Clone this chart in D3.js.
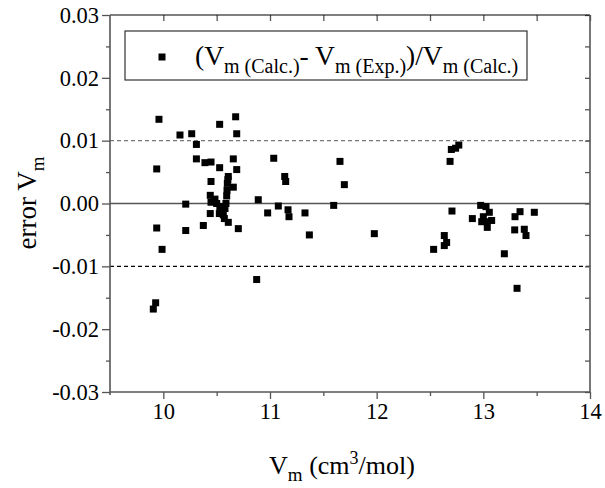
<!DOCTYPE html>
<html>
<head>
<meta charset="utf-8">
<script src="https://cdn.jsdelivr.net/npm/d3@7"></script>
<style>
  body { margin: 0; background: #fff; }
  svg { display: block; font-family: "Liberation Serif", "Times New Roman", serif; }
</style>
</head>
<body>
<svg id="chart" width="605" height="488"></svg>
<script>
// molar volume (cm3/mol) of each sample
var vmValues = [
  9.959, 10.156, 10.266, 10.31, 10.31, 9.938, 10.21, 9.938, 10.21, 9.988, 9.928, 9.906,
  10.678, 10.528, 10.688, 10.39, 10.447, 10.656, 10.528, 10.688, 10.609, 10.605, 10.447,
  10.6, 10.656, 10.597, 10.44, 10.594, 10.484, 10.447, 10.5, 10.587, 10.53, 10.578,
  10.547, 10.44, 10.525, 10.562, 10.572, 10.609, 10.375, 10.703,
  10.89, 10.978, 11.078, 11.035, 11.138, 11.147, 11.169, 11.178, 11.328, 11.369,
  11.597, 11.656, 11.697, 11.978, 10.875,
  12.70, 12.74, 12.77, 12.688, 12.706, 12.634, 12.656, 12.634, 12.534, 12.975, 13.025,
  13.056, 12.897, 13.0, 12.985, 13.031, 13.078, 13.037, 13.344, 13.478, 13.297, 13.294,
  13.384, 13.4, 13.197, 13.316
];
// relative error (Vm calc - Vm exp) / Vm calc
var errorValues = [
  0.0134, 0.0109, 0.0111, 0.0094, 0.0071, 0.0055, -0.0001, -0.0039, -0.0043, -0.0073, -0.0158, -0.0168,
  0.0138, 0.0126, 0.0111, 0.0065, 0.0066, 0.0071, 0.0057, 0.0054, 0.0043, 0.0038, 0.0035,
  0.0032, 0.0026, 0.0021, 0.0013, 0.0012, 0.0007, 0.0002, 0.0000, 0.0000, -0.0005, -0.0008,
  -0.0011, -0.0016, -0.0016, -0.0018, -0.0024, -0.0030, -0.0035, -0.0040,
  0.0006, -0.0015, -0.0004, 0.0072, 0.0043, 0.0035, -0.0010, -0.0021, -0.0015, -0.0050,
  -0.0003, 0.0067, 0.0030, -0.0048, -0.0121,
  0.0086, 0.0088, 0.0093, 0.0067, -0.0012, -0.0051, -0.0062, -0.0067, -0.0073, -0.0003, -0.0005,
  -0.0014, -0.0024, -0.0021, -0.0029, -0.0029, -0.0027, -0.0038, -0.0013, -0.0014, -0.0021, -0.0042,
  -0.0041, -0.0051, -0.0080, -0.0135
];

var xMajorTicks = [10, 11, 12, 13, 14];
var xMinorTicks = [10.5, 11.5, 12.5, 13.5];
var yMajorTicks = [-0.03, -0.02, -0.01, 0.00, 0.01, 0.02, 0.03];
var yMinorTicks = [-0.025, -0.015, -0.005, 0.005, 0.015, 0.025];
var refLines = [-0.01, 0.01];

var svg = d3.select("#chart");
// note: "top" is taken by window.top, so plot edges get their own names
var plotL = 110, plotR = 590, plotT = 15, plotB = 392;

var x = d3.scaleLinear().domain([9.5, 14]).range([plotL, plotR]);
var y = d3.scaleLinear().domain([-0.03, 0.03]).range([plotB, plotT]);

var axisColor = "#555";
var serif = "'Liberation Serif', 'Times New Roman', serif";

// dashed reference lines and zero line
svg.selectAll(".ref").data(refLines).enter().append("line")
  .attr("x1", plotL).attr("x2", plotR)
  .attr("y1", function(d){ return y(d); })
  .attr("y2", function(d){ return y(d); })
  .attr("stroke", function(d){ return d > 0 ? "#777" : "#000"; })
  .attr("stroke-width", 1.2)
  .attr("stroke-dasharray", "4,3");

svg.append("line")
  .attr("x1", plotL).attr("x2", plotR)
  .attr("y1", y(0)).attr("y2", y(0))
  .attr("stroke", axisColor).attr("stroke-width", 1.5);

function styleAxis(g) {
  g.attr("font-family", serif).attr("font-size", 22.5);
  g.select(".domain").remove();
  g.selectAll(".tick line").attr("stroke", axisColor).attr("stroke-width", 1.3);
  g.selectAll(".tick text").attr("fill", "#000");
}

// left axis: outward ticks
svg.append("g").attr("transform", "translate(" + plotL + ",0)")
  .call(d3.axisLeft(y).tickValues(yMajorTicks).tickSize(8).tickPadding(3)
    .tickFormat(function(d){ return d3.format(".2f")(d).replace("\u2212", "-"); }))
  .call(styleAxis);
svg.append("g").attr("transform", "translate(" + plotL + ",0)")
  .call(d3.axisLeft(y).tickValues(yMinorTicks).tickSize(4).tickFormat(""))
  .call(styleAxis);

// bottom axis: outward ticks
svg.append("g").attr("transform", "translate(0," + plotB + ")")
  .call(d3.axisBottom(x).tickValues(xMajorTicks).tickSize(7).tickPadding(4)
    .tickFormat(d3.format("d")))
  .call(styleAxis);
svg.append("g").attr("transform", "translate(0," + plotB + ")")
  .call(d3.axisBottom(x).tickValues(xMinorTicks).tickSize(4).tickFormat(""))
  .call(styleAxis);

// top and right axes: inward ticks, no labels
svg.append("g").attr("transform", "translate(0," + plotT + ")")
  .call(d3.axisTop(x).tickValues(xMajorTicks.concat(xMinorTicks)).tickSize(-6).tickFormat(""))
  .call(styleAxis);
svg.append("g").attr("transform", "translate(" + plotR + ",0)")
  .call(d3.axisRight(y).tickValues(yMajorTicks.concat(yMinorTicks)).tickSize(-5).tickFormat(""))
  .call(styleAxis);

// frame
svg.append("line").attr("x1", plotL).attr("x2", plotR).attr("y1", plotT).attr("y2", plotT)
  .attr("stroke", "#000").attr("stroke-width", 1.2);
svg.append("line").attr("x1", plotL).attr("x2", plotR).attr("y1", plotB).attr("y2", plotB)
  .attr("stroke", axisColor).attr("stroke-width", 1.6);
svg.append("line").attr("x1", plotL).attr("x2", plotL).attr("y1", plotT).attr("y2", plotB + 3)
  .attr("stroke", axisColor).attr("stroke-width", 1.6);
svg.append("line").attr("x1", plotR).attr("x2", plotR).attr("y1", plotT).attr("y2", plotB)
  .attr("stroke", axisColor).attr("stroke-width", 1.6);

// points
var pts = vmValues.map(function(v, i){ return [v, errorValues[i]]; });
var sz = 7;
svg.selectAll(".pt").data(pts).enter().append("rect")
  .attr("class", "pt")
  .attr("x", function(d){ return x(d[0]) - sz / 2; })
  .attr("y", function(d){ return y(d[1]) - sz / 2; })
  .attr("width", sz).attr("height", sz)
  .attr("fill", "#000");

// legend
svg.append("rect").attr("x", 125).attr("y", 31).attr("width", 402).attr("height", 49)
  .attr("fill", "#fff").attr("stroke", "#333").attr("stroke-width", 1.2);
svg.append("rect").attr("x", 162 - 3.5).attr("y", 57 - 3.5).attr("width", 7).attr("height", 7)
  .attr("fill", "#000");

var lg = svg.append("text").attr("x", 195).attr("y", 65)
  .style("font-family", serif).attr("fill", "#000");
var parts = [
  ["(V", 0], ["m (Calc.)", 1], ["- V", 0], ["m (Exp.)", 1], [")/V", 0], ["m (Calc.)", 1]
];
var prevSub = 0;
parts.forEach(function(p){
  var dy = p[1] === prevSub ? 0 : (p[1] ? 8 : -8);
  lg.append("tspan").attr("dy", dy)
    .style("font-size", p[1] ? "20px" : "27.5px")
    .text(p[0]);
  prevSub = p[1];
});

// axis titles
var yt = svg.append("text")
  .attr("transform", "translate(36," + 203 + ") rotate(-90)")
  .attr("text-anchor", "middle")
  .style("font-family", serif).style("font-size", "27px").attr("fill", "#000");
yt.append("tspan").text("error V");
yt.append("tspan").attr("dy", 8).style("font-size", "19px").text("m");

var xt = svg.append("text")
  .attr("x", 342).attr("y", 474)
  .attr("text-anchor", "middle")
  .style("font-family", serif).style("font-size", "26px").attr("fill", "#000");
xt.append("tspan").text("V");
xt.append("tspan").attr("dy", 7).style("font-size", "19px").text("m");
xt.append("tspan").attr("dy", -7).text(" (cm");
xt.append("tspan").attr("dy", -10).style("font-size", "18px").text("3");
xt.append("tspan").attr("dy", 10).text("/mol)");
</script>
</body>
</html>
